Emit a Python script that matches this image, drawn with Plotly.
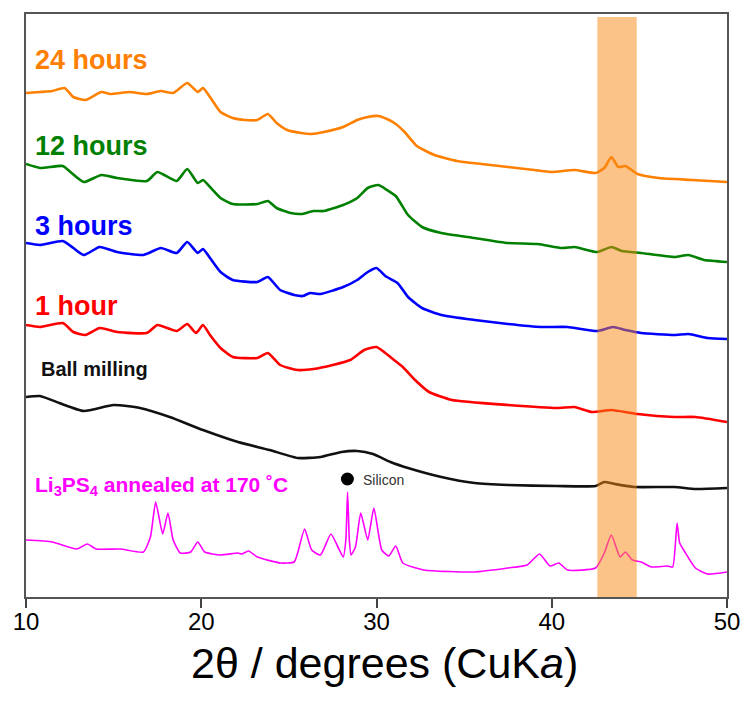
import plotly.graph_objects as go

# XRD patterns (2-theta in degrees, stacked intensity in arbitrary units)
x_24h = [10.0, 10.8, 11.5, 12.2, 12.7, 13.4, 14.3, 14.8, 15.9, 16.9, 17.7, 18.4, 19.2, 19.8, 20.1,
         20.5, 21.1, 21.8, 22.5, 23.2, 23.8, 24.3, 24.9, 25.7, 26.3, 27.0, 28.1, 28.9, 29.5, 30.1,
         30.6, 31.1, 31.6, 32.3, 33.3, 34.6, 36.0, 37.5, 39.0, 40.0, 41.3, 42.5, 43.0, 43.4, 43.8,
         44.2, 44.9, 46.1, 48.0, 50.0]
y_24h = [504, 505, 506, 509, 500, 497, 505, 503, 505, 503, 506, 504, 514, 505, 509,
         500, 485, 479, 477, 477, 483, 474, 467, 464, 463, 465, 470, 477, 480, 481,
         478, 473, 465, 451, 442, 436, 433, 430, 427, 425, 427, 424, 429, 440, 430,
         431, 423, 419, 417, 415]

x_12h = [10.0, 10.8, 12.1, 12.6, 13.3, 14.3, 15.2, 16.9, 17.5, 18.6, 19.2, 19.8, 20.1, 20.5, 21.1,
         21.8, 23.2, 23.8, 24.3, 25.1, 25.7, 26.4, 27.0, 28.1, 28.9, 29.5, 30.1, 30.6, 31.1, 31.8,
         32.6, 33.7, 35.6, 37.5, 39.2, 40.6, 41.3, 42.6, 43.4, 44.0, 45.1, 47.0, 47.8, 48.7, 50.0]
y_12h = [433, 429, 431, 424, 415, 422, 419, 416, 425, 416, 428, 414, 417, 410, 399,
         393, 393, 396, 389, 384, 383, 386, 386, 392, 399, 409, 412, 407, 401, 382,
         370, 364, 359, 354, 353, 349, 350, 345, 350, 346, 344, 340, 342, 337, 335]

x_3h = [10.0, 10.8, 12.1, 12.7, 13.3, 14.2, 15.2, 16.7, 17.7, 18.6, 19.2, 19.8, 20.1, 20.5, 21.1,
        21.8, 23.2, 23.8, 24.5, 25.3, 25.8, 26.2, 26.8, 28.1, 28.9, 29.5, 30.0, 30.5, 31.2, 31.8,
        32.6, 33.7, 35.6, 37.5, 39.4, 40.9, 42.6, 43.5, 44.2, 45.1, 47.0, 47.8, 48.9, 50.0]
y_3h = [354, 352, 356, 349, 342, 350, 345, 342, 349, 344, 355, 344, 348, 339, 325,
        317, 315, 320, 307, 302, 301, 304, 303, 310, 317, 325, 329, 321, 314, 300,
        289, 282, 277, 273, 270, 270, 266, 270, 267, 264, 262, 263, 259, 258]

x_1h = [10.0, 10.8, 12.1, 12.7, 13.4, 14.2, 15.2, 16.9, 17.5, 18.6, 19.2, 19.7, 20.1, 20.5, 21.1,
        21.8, 23.2, 23.8, 24.5, 25.5, 26.4, 27.5, 28.5, 29.3, 30.0, 31.0, 31.5, 32.2, 33.0, 34.3,
        37.5, 40.3, 41.3, 42.3, 43.4, 44.9, 47.0, 48.2, 50.0]
y_1h = [272, 270, 274, 265, 262, 269, 265, 264, 272, 266, 273, 264, 272, 262, 249,
        240, 239, 244, 232, 227, 228, 232, 237, 247, 250, 237, 230, 217, 205, 197,
        192, 189, 190, 185, 187, 183, 180, 180, 175]

x_bm = [10.0, 10.8, 11.9, 13.3, 15.0, 16.5, 18.2, 20.1, 22.1, 23.9, 25.5, 26.8, 28.0, 28.9,
        29.8, 30.8, 31.8, 33.7, 35.6, 37.5, 40.3, 42.5, 43.0, 43.6, 44.7, 47.0, 48.2, 50.0]
y_bm = [200, 201, 194, 186, 192, 189, 180, 167, 155, 147, 139, 140, 145, 146,
        143, 135, 129, 120, 114, 112, 111, 111, 115, 113, 110, 110, 108, 109]

x_ref = [10.0, 11.5, 12.9, 13.5, 14.0, 15.4, 16.7, 17.1, 17.4, 17.8, 18.1, 18.4, 18.8, 19.4, 19.8,
         20.2, 21.1, 22.1, 22.3, 22.7, 23.2, 24.5, 25.3, 25.5, 25.9, 26.3, 26.8, 27.4, 27.8, 28.1,
         28.25, 28.35, 28.45, 28.55, 28.8, 29.1, 29.5, 29.85, 30.3, 30.7, 31.1, 31.5, 32.7, 35.6,
         37.5, 38.6, 39.3, 39.9, 40.4, 40.9, 42.5, 43.0, 43.4, 43.9, 44.2, 44.6, 45.1, 45.7, 46.6,
         46.9, 47.15, 47.3, 47.6, 48.2, 48.9, 50.0]
y_ref = [57, 55, 48, 53, 48, 48, 45, 60, 95, 63, 84, 57, 44, 45, 55,
         45, 42, 44, 43, 46, 40, 34, 35, 44, 68, 47, 42, 63, 50, 40,
         57, 105, 57, 42, 50, 84, 57, 89, 47, 41, 51, 34, 27, 25,
         29, 32, 43, 31, 34, 27, 29, 44, 62, 40, 45, 37, 35, 30, 31,
         30, 74, 54, 45, 29, 23, 25]

# Silicon reflection marker
si_x = [28.34]
si_y = [118]

# Highlighted 2-theta window
band_x = [42.6, 44.85]

series = [
    (x_24h, y_24h, "#FF8000", 2.6, "24 hours"),
    (x_12h, y_12h, "#008000", 2.6, "12 hours"),
    (x_3h, y_3h, "#0000FF", 2.6, "3 hours"),
    (x_1h, y_1h, "#FF0000", 2.6, "1 hour"),
    (x_bm, y_bm, "#111111", 2.6, "Ball milling"),
    (x_ref, y_ref, "#FF00FF", 1.6, "Li3PS4"),
]

fig = go.Figure()
for xs, ys, col, w, name in series:
    fig.add_trace(go.Scatter(x=xs, y=ys, mode="lines", name=name,
                             line=dict(color=col, width=w, shape="spline", smoothing=0.5),
                             showlegend=False, hoverinfo="skip"))

fig.add_trace(go.Scatter(x=si_x, y=si_y, mode="markers",
                         marker=dict(color="black", size=13), showlegend=False))

fig.add_shape(type="rect", xref="x", yref="y", x0=band_x[0], x1=band_x[1], y0=0, y1=580,
              fillcolor="rgba(250,136,20,0.5)", line=dict(width=0), layer="above")

face = "Arial, 'Liberation Sans', sans-serif"
labels = [
    (10.4, 537, "<b>24 hours</b>", "#FF8000", 27),
    (10.4, 451, "<b>12 hours</b>", "#008000", 27),
    (10.4, 371, "<b>3 hours</b>", "#0000FF", 27),
    (10.4, 291, "<b>1 hour</b>", "#FF0000", 27),
    (10.72, 228, "<b>Ball milling</b>", "#111111", 20),
    (10.4, 111, "<b>Li<sub>3</sub>PS<sub>4</sub> annealed at 170 ˚C</b>", "#FF00FF", 21),
    (29.1, 117, "Silicon", "#333333", 14),
]
for lx, ly, txt, col, sz in labels:
    fig.add_annotation(x=lx, y=ly, text=txt, showarrow=False, xanchor="left", yanchor="middle",
                       font=dict(family=face, size=sz, color=col))

# x-axis title placed below the tick labels
fig.add_annotation(x=0.511, y=-0.113, xref="paper", yref="paper", showarrow=False,
                   xanchor="center", yanchor="middle",
                   text="2θ / degrees (CuK<i>a</i>)", font=dict(family=face, size=43, color="black"))

fig.update_layout(
    width=748, height=704,
    margin=dict(l=26, r=21, t=14, b=107, autoexpand=False),
    paper_bgcolor="white", plot_bgcolor="white",
    font=dict(family=face, color="black"),
    xaxis=dict(range=[10, 50], tickvals=[10, 20, 30, 40, 50], ticks="outside", ticklen=9,
               tickwidth=1.5, tickcolor="#444", tickfont=dict(size=24), ticklabelstandoff=-7,
               showline=True, linecolor="#555", linewidth=2, mirror=True, showgrid=False,
               zeroline=False, automargin=False),
    yaxis=dict(range=[0, 583], showticklabels=False, ticks="", showline=True, linecolor="#555",
               linewidth=2, mirror=True, showgrid=False, zeroline=False, automargin=False),
)

fig.write_html("out.html")
